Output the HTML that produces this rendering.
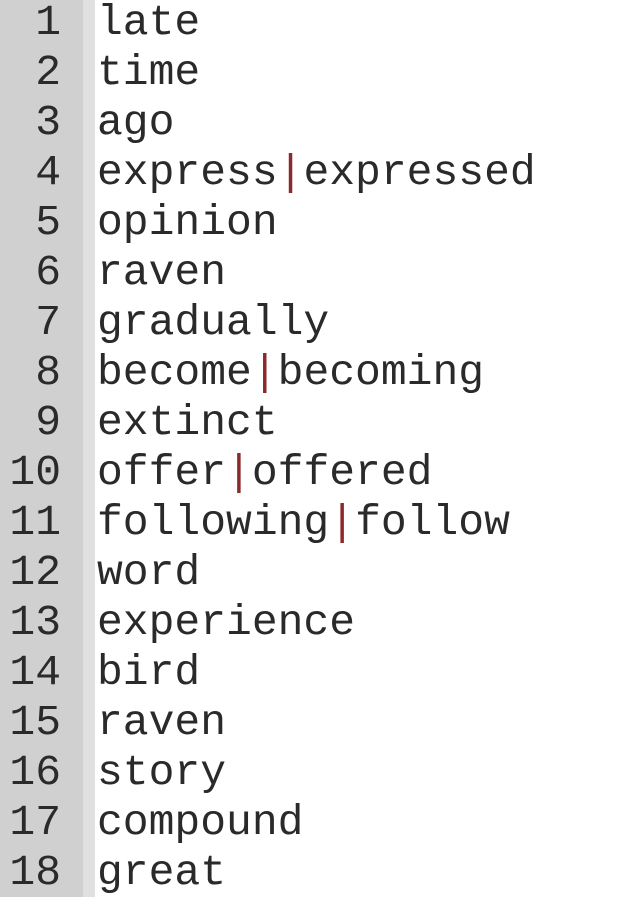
<!DOCTYPE html>
<html><head><style>
body{margin:0;width:637px;height:897px;overflow:hidden;background:#fff;position:relative}
#g{position:absolute;left:0;top:0;width:83px;height:897px;background:#d0d0d0}
#s{position:absolute;left:83px;top:0;width:12px;height:897px;background:#e0e0e0}
.n,.t{position:absolute;top:-2px;font-family:"Liberation Mono",monospace;font-size:43px;line-height:50px;color:#2a2a2a;white-space:pre}
.n{left:0;width:61px;text-align:right}
.t{left:97px}
.p{color:#8b2a2a}
</style></head><body>
<div id="g"></div><div id="s"></div>
<div class="n">1
2
3
4
5
6
7
8
9
10
11
12
13
14
15
16
17
18</div>
<div class="t">late
time
ago
express<span class="p">|</span>expressed
opinion
raven
gradually
become<span class="p">|</span>becoming
extinct
offer<span class="p">|</span>offered
following<span class="p">|</span>follow
word
experience
bird
raven
story
compound
great</div>
</body></html>
